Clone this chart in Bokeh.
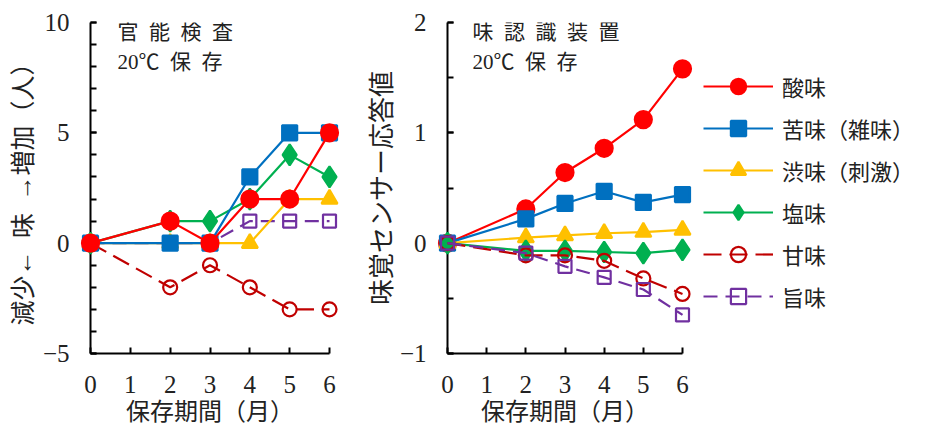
from bokeh.plotting import figure
from bokeh.layouts import row
from bokeh.models import (Range1d, FixedTicker, Label, Legend, LegendItem,
                          CustomJSTickFormatter)
from bokeh.embed import file_html
from bokeh.resources import INLINE

# storage period (months)
months = [0, 2, 3, 4, 5, 6]
x_ticks = [0, 1, 2, 3, 4, 5, 6]

taste_names = ["酸味", "苦味（雑味）", "渋味（刺激）", "塩味", "甘味", "旨味"]

# sensory evaluation: number of panelists (increase +, decrease -)
sens_sour = [0, 1, 0, 2, 2, 5]
sens_bitter = [0, 0, 0, 3, 5, 5]
sens_astringent = [0, 0, 0, 0, 2, 2]
sens_salty = [0, 1, 1, 2, 4, 3]
sens_sweet = [0, -2, -1, -2, -3, -3]
sens_umami = [0, 0, 0, 1, 1, 1]

# taste sensing system: sensor response
sensor_sour = [0, 0.31, 0.64, 0.86, 1.12, 1.58]
sensor_bitter = [0, 0.22, 0.36, 0.47, 0.37, 0.44]
sensor_astringent = [0, 0.05, 0.07, 0.09, 0.10, 0.12]
sensor_salty = [0, -0.07, -0.07, -0.08, -0.09, -0.06]
sensor_sweet = [0, -0.11, -0.11, -0.16, -0.32, -0.46]
sensor_umami = [0, -0.09, -0.21, -0.31, -0.42, -0.65]

left_y_ticks = [-5, 0, 5, 10]
right_y_ticks = [-1, 0, 1, 2]

SERIF = "'Liberation Serif', 'Noto Sans CJK JP'"

# marker, colour, filled, size, dash
STYLES = [
    ("circle", "#FF0000", True, 17, "solid"),
    ("square", "#0070C0", True, 15, "solid"),
    ("triangle", "#FFC000", True, 16, "solid"),
    ("diamond", "#00B050", True, 21, "solid"),
    ("circle", "#C00000", False, 14, "18 8"),
    ("square", "#7030A0", False, 13, "14 8"),
]

minus_fmt = CustomJSTickFormatter(
    code="return tick < 0 ? '\\u2212' + Math.abs(tick) : String(tick);")


def make_panel(width, border_left, border_right, y_lo, y_hi, y_major, y_minor,
               y_title, y_title_size, y_title_standoff):
    p = figure(width=width, height=428, output_backend="svg",
               toolbar_location=None,
               x_range=Range1d(0, 6), y_range=Range1d(y_lo, y_hi),
               min_border_left=border_left, min_border_right=border_right,
               min_border_top=22, min_border_bottom=75)
    p.outline_line_color = None
    p.xgrid.visible = False
    p.ygrid.visible = False
    p.background_fill_color = "white"
    p.border_fill_color = "white"

    for ax in (p.xaxis[0], p.yaxis[0]):
        ax.axis_line_width = 2
        ax.axis_line_color = "black"
        ax.major_tick_line_width = 2
        ax.minor_tick_line_width = 2
        ax.major_tick_in = 6
        ax.major_tick_out = 0
        ax.minor_tick_in = 6
        ax.minor_tick_out = 0
        ax.major_label_text_font = SERIF
        ax.major_label_text_font_size = "25px"
        ax.major_label_text_color = "#222222"
        ax.axis_label_text_font = SERIF
        ax.axis_label_text_font_style = "normal"
        ax.axis_label_text_color = "#222222"
        ax.formatter = minus_fmt

    p.xaxis[0].ticker = FixedTicker(ticks=x_ticks, minor_ticks=[])
    p.xaxis[0].axis_label = "保存期間（月）"
    p.xaxis[0].axis_label_text_font_size = "24px"
    p.xaxis[0].major_label_standoff = 22
    p.xaxis[0].axis_label_standoff = 3

    p.yaxis[0].ticker = FixedTicker(ticks=y_major, minor_ticks=y_minor)
    p.yaxis[0].axis_label = y_title
    p.yaxis[0].axis_label_text_font_size = y_title_size
    p.yaxis[0].major_label_standoff = 21
    p.yaxis[0].axis_label_standoff = y_title_standoff
    return p


def draw_series(p, ys, style, level="overlay"):
    marker, color, filled, size, dash = style
    ln = p.line(months, ys, line_color=color, line_width=2.2, line_dash=dash,
                level=level)
    sc = p.scatter(months, ys, marker=marker, size=size,
                   line_color=color, line_width=2.2,
                   fill_color=color if filled else "white",
                   fill_alpha=1.0 if filled else 0.0,
                   level=level)
    return ln, sc


def add_caption(p, x, y1, y2, line1, line2):
    for y, txt in ((y1, line1), (y2, line2)):
        p.add_layout(Label(x=x, y=y, text=txt, text_font=SERIF,
                           text_font_size="21px", text_color="#222222",
                           text_baseline="middle", text_align="left"))


# --- left: sensory evaluation ---
left = make_panel(360, 90, 31, -5, 10, left_y_ticks, list(range(-5, 11)),
                  "減少←\u2002味\u2002→増加（人）", "25px", 3)
sens = [sens_sour, sens_bitter, sens_astringent, sens_salty, sens_sweet, sens_umami]
for ys, st in reversed(list(zip(sens, STYLES))):
    draw_series(left, ys, st)
add_caption(left, 0.68, 9.55, 8.2, "官\u2002能\u2002検\u2002査", "20℃\u2002保\u2002存")

# --- right: taste sensing system ---
right = make_panel(343, 87, 21, -1, 2, right_y_ticks,
                   [-1, -0.5, 0, 0.5, 1, 1.5, 2],
                   "味覚センサー応答値", "26px", 0)
sensor = [sensor_sour, sensor_bitter, sensor_astringent, sensor_salty,
          sensor_sweet, sensor_umami]
for ys, st in zip(sensor, STYLES):
    draw_series(right, ys, st)
add_caption(right, 0.64, 1.91, 1.64, "味\u2002認\u2002識\u2002装\u2002置", "20℃\u2002保\u2002存")

# --- legend strip: same series, ranges chosen so only the legend shows ---
key = figure(width=222, height=428, output_backend="svg", toolbar_location=None,
             x_range=Range1d(100, 101), y_range=Range1d(100, 101),
             x_axis_location=None, y_axis_location=None,
             min_border_left=0, min_border_right=0,
             min_border_top=0, min_border_bottom=0)
key.outline_line_color = None
key.xgrid.visible = False
key.ygrid.visible = False
items = []
for name, ys, st in zip(taste_names, sensor, STYLES):
    ln, sc = draw_series(key, ys, st, level="glyph")
    items.append(LegendItem(label=name, renderers=[ln, sc]))

legend = Legend(items=items, location=(0, 38), orientation="vertical",
                glyph_width=70, glyph_height=38, label_height=38, spacing=4,
                label_standoff=9, padding=0, margin=0,
                label_text_font=SERIF, label_text_font_size="22px",
                label_text_color="#222222",
                border_line_color=None, background_fill_alpha=0)
key.add_layout(legend, "center")

layout = row(left, right, key)
open("out.html", "w").write(file_html(layout, INLINE))
